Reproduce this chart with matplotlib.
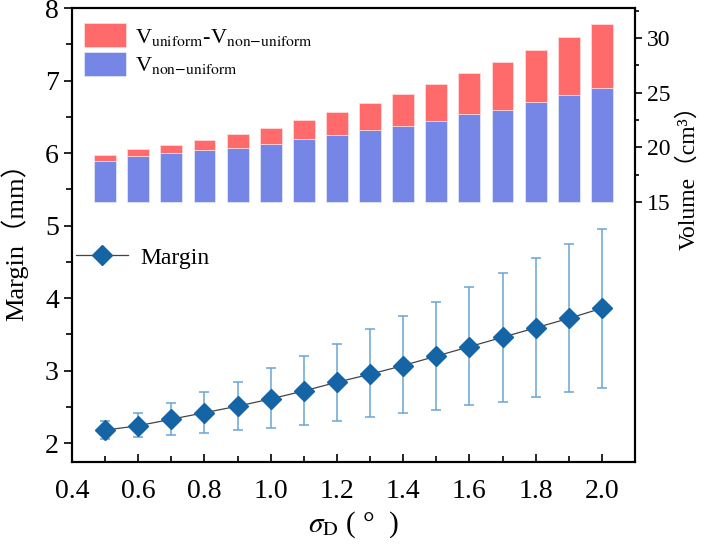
import matplotlib.pyplot as plt
import numpy as np
from matplotlib.ticker import MultipleLocator, FixedLocator

plt.rcParams['font.family'] = ['Liberation Serif', 'Noto Sans CJK SC']
plt.rcParams['mathtext.fontset'] = 'stix'

# sigma_D (deg)
sigma = [0.5, 0.6, 0.7, 0.8, 0.9, 1.0, 1.1, 1.2, 1.3, 1.4, 1.5, 1.6, 1.7, 1.8, 1.9, 2.0]

# volumes (cm3)
v_uniform = [19.30, 19.82, 20.21, 20.67, 21.19, 21.80, 22.50, 23.23,
             24.03, 24.91, 25.80, 26.80, 27.84, 28.91, 30.12, 31.31]
v_nonuniform = [18.72, 19.24, 19.51, 19.79, 19.97, 20.31, 20.79, 21.16,
                21.62, 21.98, 22.41, 23.02, 23.42, 24.18, 24.82, 25.46]

# margin (mm) with lower / upper limits of error bars
margin = [2.18, 2.24, 2.33, 2.42, 2.51, 2.61, 2.72, 2.84,
          2.95, 3.07, 3.20, 3.33, 3.46, 3.59, 3.72, 3.86]
margin_lo = [2.06, 2.08, 2.11, 2.14, 2.18, 2.21, 2.25, 2.30,
             2.36, 2.41, 2.46, 2.52, 2.57, 2.64, 2.70, 2.76]
margin_hi = [2.30, 2.42, 2.56, 2.70, 2.85, 3.03, 3.20, 3.37,
             3.57, 3.76, 3.95, 4.15, 4.35, 4.55, 4.75, 4.95]

vol_base = 15
diff = np.array(v_uniform) - np.array(v_nonuniform)
nonuni_h = np.array(v_nonuniform) - vol_base
yerr = [np.array(margin) - np.array(margin_lo), np.array(margin_hi) - np.array(margin)]

fig = plt.figure(figsize=(7.09, 5.48), dpi=100)
ax = fig.add_axes([0.1016, 0.1569, 0.794, 0.8285])
ax2 = ax.twinx()

# bars (right axis)
ax2.bar(sigma, nonuni_h, width=0.066, bottom=vol_base, color='#7586E6',
        edgecolor='#E8ECFA', linewidth=0.5, label='V$_{\\mathrm{non{-}uniform}}$')
ax2.bar(sigma, diff, width=0.066, bottom=v_nonuniform, color='#FF6B6B',
        edgecolor='#FFE0E0', linewidth=0.5,
        label='V$_{\\mathrm{uniform}}$-V$_{\\mathrm{non{-}uniform}}$')

# margin line (left axis)
ax.errorbar(sigma, margin, yerr=yerr, fmt='none', ecolor='#6AA6D6',
            elinewidth=1.1, capsize=3.4, capthick=1.1, zorder=2)
ax.plot(sigma, margin, color='#444444', linewidth=0.9, marker='D',
        markersize=10, markerfacecolor='#1565A6', markeredgecolor='#1565A6',
        label='Margin', zorder=3)

ax.set_xlim(0.4, 2.1)
ax.set_ylim(1.74, 8)
ax2.set_ylim(-8.8, 32.75)

ax.set_xticks([0.4, 0.6, 0.8, 1.0, 1.2, 1.4, 1.6, 1.8, 2.0])
ax.set_xticklabels(['0.4', '0.6', '0.8', '1.0', '1.2', '1.4', '1.6', '1.8', '2.0'])
ax.xaxis.set_minor_locator(MultipleLocator(0.1))
ax.yaxis.set_major_locator(MultipleLocator(1))
ax.yaxis.set_minor_locator(MultipleLocator(0.5))
ax2.yaxis.set_major_locator(FixedLocator([15, 20, 25, 30]))
ax2.yaxis.set_minor_locator(FixedLocator([17.5, 22.5, 27.5, 32.5]))

ax.tick_params(axis='x', which='major', direction='in', length=6, width=1.2,
               labelsize=20, pad=12)
ax.tick_params(axis='x', which='minor', direction='in', length=4, width=1.2)
ax.tick_params(axis='y', which='major', direction='out', length=6, width=1.2,
               labelsize=20)
ax.tick_params(axis='y', which='minor', direction='out', length=4, width=1.2)
ax2.tick_params(axis='y', which='major', direction='out', length=5, width=1.2,
                labelsize=17)
ax2.tick_params(axis='y', which='minor', direction='out', length=3, width=1.2)

for sp in ax.spines.values():
    sp.set_linewidth(1.5)
for sp in ax2.spines.values():
    sp.set_linewidth(1.5)

ax.set_xlabel('$\\sigma_{\\mathrm{D}}$ ( °  )', fontsize=21, labelpad=4)
ax.set_ylabel('Margin（mm）', fontsize=19, labelpad=12)
ax2.set_ylabel('Volume（cm³）', fontsize=17)
ax2.yaxis.set_label_coords(1.074, 0.64)

h, l = ax2.get_legend_handles_labels()
ax2.legend(h[::-1], l[::-1], loc='upper left', bbox_to_anchor=(-0.015, 1.01),
           frameon=False, fontsize=16, handlelength=1.9, handleheight=1.25,
           handletextpad=0.4, labelspacing=0.2, borderaxespad=0.5)
ax.legend(loc='upper left', bbox_to_anchor=(-0.03, 0.52), frameon=False,
          fontsize=17, handlelength=2.2, handletextpad=0.5)

fig.savefig('out.png', dpi=100)
